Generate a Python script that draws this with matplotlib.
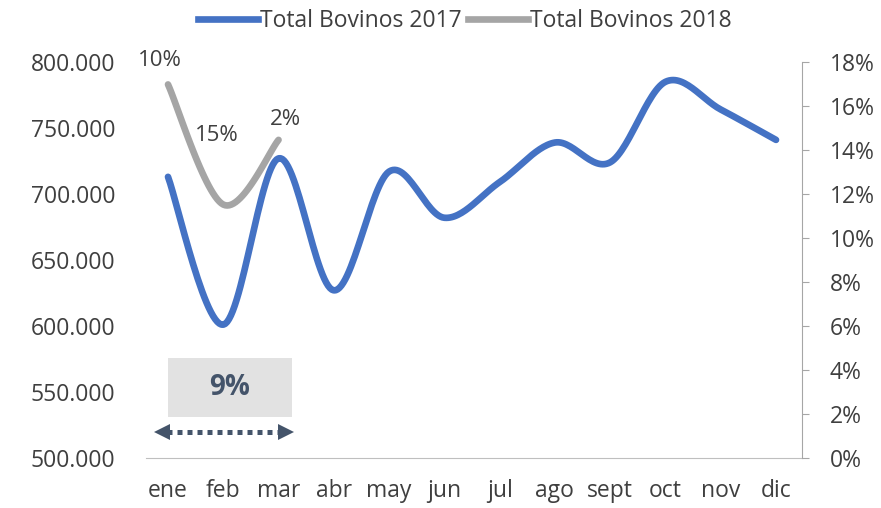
import numpy as np
import matplotlib
matplotlib.use("Agg")
import matplotlib.pyplot as plt
from matplotlib.patches import Rectangle
from matplotlib.lines import Line2D
from matplotlib.ticker import FuncFormatter

months = ["ene", "feb", "mar", "abr", "may", "jun", "jul", "ago", "sept", "oct", "nov", "dic"]
bovinos_2017 = [713000, 601000, 727000, 627000, 717000, 682000, 709000, 739000, 724000, 785000, 764000, 741000]
bovinos_2018 = [783000, 692000, 741000]
growth_labels = ["10%", "15%", "2%"]
summary_label = "9%"

plt.rcParams['font.family'] = ['Open Sans', 'DejaVu Sans']

def smooth(x, y, n=30):
    x = np.asarray(x, float); y = np.asarray(y, float)
    px = np.concatenate([[x[0]], x, [x[-1]]])
    py = np.concatenate([[y[0]], y, [y[-1]]])
    xs, ys = [], []
    for i in range(1, len(px) - 2):
        p0 = np.array([px[i], py[i]]); p3 = np.array([px[i+1], py[i+1]])
        c1 = p0 + (np.array([px[i+1], py[i+1]]) - np.array([px[i-1], py[i-1]])) / 6
        c2 = p3 - (np.array([px[i+2], py[i+2]]) - np.array([px[i], py[i]])) / 6
        t = np.linspace(0, 1, n)[:, None]
        pts = (1-t)**3*p0 + 3*(1-t)**2*t*c1 + 3*(1-t)*t**2*c2 + t**3*p3
        xs.append(pts[:, 0]); ys.append(pts[:, 1])
    return np.concatenate(xs), np.concatenate(ys)

fig = plt.figure(figsize=(8.81, 5.08), dpi=100)
ax = fig.add_axes([146/881, 1-458/508, (802-146)/881, (458-62)/508])
x = np.arange(len(months))

blue = "#4472C4"
gray = "#A5A5A5"
txt = "#3F3F3F"
navy = "#44546A"
sx, sy = smooth(x, bovinos_2017)
ax.plot(sx, sy, color=blue, lw=4.8, solid_capstyle='round')
x18 = np.arange(len(bovinos_2018))
sx2, sy2 = smooth(x18, bovinos_2018)
ax.plot(sx2, sy2, color=gray, lw=4.8, solid_capstyle='round')

ax.set_xlim(-0.398, 11.47)
ax.set_ylim(500000, 800000)
ax.set_yticks(np.arange(500000, 800001, 50000))
ax.yaxis.set_major_formatter(FuncFormatter(lambda v, p: f"{int(v):,}".replace(",", ".")))
ax.set_xticks(x)
ax.set_xticklabels(months)
for s in ["top", "left", "right"]:
    ax.spines[s].set_visible(False)
ax.spines["bottom"].set_color("#BFBFBF")
ax.tick_params(axis='both', length=0, labelsize=16.5, colors=txt)
ax.tick_params(axis='x', pad=15)
ax.tick_params(axis='y', pad=22)

ax2 = ax.twinx()
ax2.set_ylim(0, 0.18)
ax2.set_yticks(np.arange(0, 0.181, 0.02))
ax2.yaxis.set_major_formatter(FuncFormatter(lambda v, p: f"{round(v*100)}%"))
for s in ["top", "left", "bottom"]:
    ax2.spines[s].set_visible(False)
ax2.spines["right"].set_color("#A6A6A6")
ax2.tick_params(axis='y', length=5, color="#A6A6A6", labelsize=16.5, labelcolor=txt, pad=15)

# data labels
offsets = [(-6, 17), (-5, 50), (5, 15)]
for i, (lab, (dx, dy)) in enumerate(zip(growth_labels, offsets)):
    ax.annotate(lab, (x18[i], bovinos_2018[i]), xytext=(dx, dy), textcoords='offset points',
                ha='center', va='center', fontsize=16, color=txt)

# summary box
ax.add_patch(Rectangle((0.0, 531000), 2.25, 45000, facecolor="#E2E2E2", edgecolor='none', zorder=1))
ax.text(1.12, 553500, summary_label, ha='center', va='center', fontsize=20, fontweight='bold', color=navy)
# dotted double arrow
ax.plot([-0.02, 2.06], [520000, 520000], color=navy, lw=3.6, linestyle=(0, (1, 1)), dash_capstyle='butt')
ax.plot([-0.1], [520000], marker='<', markersize=11, color=navy, markeredgewidth=0)
ax.plot([2.13], [520000], marker='>', markersize=11, color=navy, markeredgewidth=0)

handles = [Line2D([], [], color=blue, lw=4.8), Line2D([], [], color=gray, lw=4.8)]
fig.legend(handles, ["Total Bovinos 2017", "Total Bovinos 2018"], loc='center', bbox_to_anchor=(465/881, 1-21/508),
           ncol=2, frameon=False, fontsize=16.5, handlelength=2.6, handletextpad=0.1, columnspacing=0.3,
           labelcolor=txt)

fig.savefig("out.png", dpi=100)
